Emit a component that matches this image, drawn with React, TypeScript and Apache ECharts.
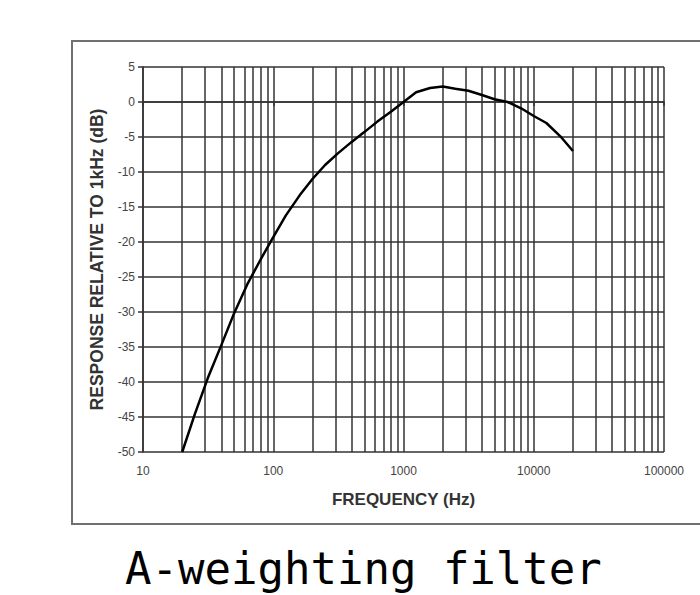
import React, { useEffect, useRef } from "react";
import * as echarts from "echarts";

const freqs = [20, 25, 31.5, 40, 50, 63, 80, 100, 125, 160, 200, 250, 315, 400, 500, 630, 800, 1000, 1250, 1600, 2000, 2500, 3150, 4000, 5000, 6300, 8000, 10000, 12500, 16000, 20000];
const responseDb = [-50, -44.6, -39.4, -34.7, -30.2, -26.1, -22.5, -19.3, -16.2, -13.3, -11.0, -9.0, -7.3, -5.7, -4.3, -2.8, -1.4, 0, 1.4, 2.0, 2.2, 1.9, 1.6, 1.0, 0.4, 0.0, -0.9, -2.0, -3.0, -4.9, -7.0];
const minorGridFreqs = [20, 30, 40, 50, 60, 70, 80, 90, 200, 300, 400, 500, 600, 700, 800, 900, 2000, 3000, 4000, 5000, 6000, 7000, 8000, 9000, 20000, 30000, 40000, 50000, 60000, 70000, 80000, 90000];
const titleText = "A-weighting filter";
const xName = "FREQUENCY (Hz)";
const yName = "RESPONSE RELATIVE TO 1kHz (dB)";

export default function App() {
  const ref = useRef<HTMLDivElement>(null);
  useEffect(() => {
    if (!ref.current) return;
    const chart = echarts.init(ref.current, null, { renderer: "svg" });
    const gridColor = "#333";
    chart.setOption({
      animation: false,
      backgroundColor: "#fff",
      title: {
        text: titleText,
        left: 120,
        top: 541,
        textStyle: { fontFamily: "DejaVu Sans Mono", fontSize: 44, fontWeight: "normal", color: "#000" },
      },
      graphic: [
        {
          type: "rect",
          shape: { x: 72, y: 41, width: 700, height: 483 },
          style: { fill: "none", stroke: "#707070", lineWidth: 2 },
          silent: true,
        },
      ],
      grid: { left: 143, right: 36, top: 67, bottom: 143 },
      xAxis: {
        type: "log",
        logBase: 10,
        min: 10,
        max: 100000,
        name: xName,
        nameLocation: "middle",
        nameGap: 39,
        nameTextStyle: { fontFamily: "Liberation Sans", fontWeight: "bold", fontSize: 17, color: "#333" },
        axisLine: { show: true, lineStyle: { color: gridColor, width: 1.5 } },
        axisTick: { show: true, length: 4, lineStyle: { color: gridColor, width: 1.5 } },
        axisLabel: {
          margin: 13,
          fontFamily: "Liberation Sans",
          fontSize: 12,
          color: "#444",
          formatter: (v: number) => String(Math.round(v)),
        },
        splitLine: { show: true, lineStyle: { color: gridColor, width: 1.5 } },
        minorTick: { show: false },
      },
      yAxis: {
        type: "value",
        min: -50,
        max: 5,
        interval: 5,
        name: yName,
        nameLocation: "middle",
        nameGap: 37,
        nameTextStyle: { fontFamily: "Liberation Sans", fontWeight: "bold", fontSize: 17.5, color: "#333" },
        axisLine: { show: true, lineStyle: { color: gridColor, width: 1.5 } },
        axisTick: { show: true, length: 5, lineStyle: { color: gridColor, width: 1.5 } },
        axisLabel: { margin: 8, fontFamily: "Liberation Sans", fontSize: 12, color: "#444" },
        splitLine: { show: true, lineStyle: { color: gridColor, width: 1.5 } },
      },
      series: [
        {
          type: "line",
          data: [],
          silent: true,
          markLine: {
            silent: true,
            symbol: ["none", "none"],
            label: { show: false },
            lineStyle: { color: gridColor, width: 1.5, type: "solid" },
            data: minorGridFreqs.map((f) => ({ xAxis: f })),
          },
        },
        {
          type: "line",
          data: freqs.map((f, i) => [f, responseDb[i]]),
          showSymbol: false,
          smooth: false,
          lineStyle: { color: "#000", width: 2.5 },
          z: 5,
        },
      ],
    });
    return () => chart.dispose();
  }, []);
  return <div ref={ref} style={{ position: "absolute", left: 0, top: 0, width: 700, height: 595 }} />;
}
